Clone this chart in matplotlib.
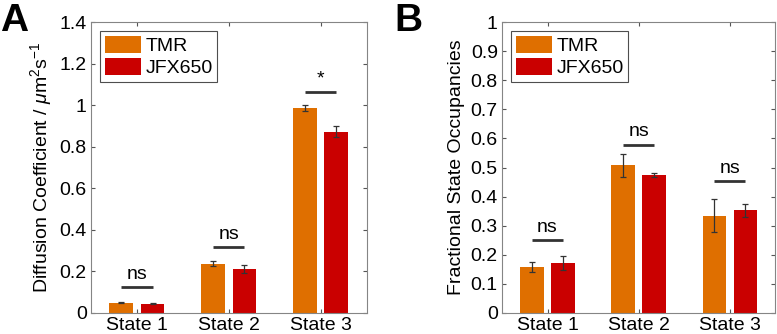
import matplotlib
matplotlib.use("Agg")
import matplotlib.pyplot as plt
import numpy as np
from matplotlib.patches import Patch

plt.rcParams['font.family'] = ['Liberation Sans', 'DejaVu Sans']
plt.rcParams['mathtext.fontset'] = 'custom'
plt.rcParams['mathtext.rm'] = 'Liberation Sans'
plt.rcParams['mathtext.it'] = 'Liberation Sans:italic'

categories = ['State 1', 'State 2', 'State 3']
series = ['TMR', 'JFX650']
colors = ['#DF6F00', '#CA0000']

# Panel A: diffusion coefficients
diff_tmr = [0.050, 0.238, 0.987]
diff_tmr_err = [0.004, 0.010, 0.016]
diff_jfx = [0.045, 0.212, 0.873]
diff_jfx_err = [0.004, 0.020, 0.028]
diff_sig = ['ns', 'ns', '*']
diff_sig_y = [0.125, 0.318, 1.064]

# Panel B: fractional state occupancies
occ_tmr = [0.158, 0.508, 0.335]
occ_tmr_err = [0.018, 0.040, 0.057]
occ_jfx = [0.173, 0.474, 0.353]
occ_jfx_err = [0.024, 0.007, 0.022]
occ_sig = ['ns', 'ns', 'ns']
occ_sig_y = [0.252, 0.579, 0.453]

fig = plt.figure(figsize=(7.77, 3.34), dpi=100)
axA = fig.add_axes([0.117, 0.063, 0.355, 0.871])
axB = fig.add_axes([0.646, 0.063, 0.352, 0.871])

x = np.arange(1, len(categories) + 1)
off = 0.17
w = 0.26
FS = 14

def panel(ax, v1, e1, v2, e2, sig, sigy, ymax, ystep, ylabel, txt_off):
    ax.bar(x - off, v1, w, color=colors[0], edgecolor='none', zorder=2)
    ax.bar(x + off, v2, w, color=colors[1], edgecolor='none', zorder=2)
    ax.errorbar(x - off, v1, yerr=e1, fmt='none', ecolor='#333333', elinewidth=0.9, capsize=2.2, capthick=0.9, zorder=3)
    ax.errorbar(x + off, v2, yerr=e2, fmt='none', ecolor='#333333', elinewidth=0.9, capsize=2.2, capthick=0.9, zorder=3)
    for xi, s, yy in zip(x, sig, sigy):
        ax.plot([xi - off, xi + off], [yy, yy], color='#333333', lw=2, solid_capstyle='butt', zorder=3)
        ax.text(xi, yy + txt_off, s, ha='center', va='bottom', fontsize=FS, color='black')
    ax.set_xlim(0.5, 3.5)
    ax.set_ylim(0, ymax)
    ticks = np.round(np.arange(0, ymax + ystep / 2, ystep), 2)
    ax.set_yticks(ticks)
    ax.set_yticklabels([('%g' % t) for t in ticks], fontsize=FS)
    ax.set_xticks(x)
    ax.set_xticklabels(categories, fontsize=FS)
    ax.tick_params(direction='in', length=3, width=0.8, color='#555555', top=True, right=True, pad=3)
    for sp in ax.spines.values():
        sp.set_color('#858585')
        sp.set_linewidth(0.8)
    ax.set_ylabel(ylabel, fontsize=FS, labelpad=4)
    handles = [Patch(facecolor=c, edgecolor='none', label=l) for c, l in zip(colors, series)]
    leg = ax.legend(handles=handles, loc='upper left', fontsize=FS, frameon=True, fancybox=False,
                    handlelength=1.9, handleheight=1.0, handletextpad=0.2, borderpad=0.25,
                    labelspacing=0.15, borderaxespad=0.45)
    leg.get_frame().set_edgecolor('#222222')
    leg.get_frame().set_linewidth(0.8)

panel(axA, diff_tmr, diff_tmr_err, diff_jfx, diff_jfx_err, diff_sig, diff_sig_y, 1.4, 0.2,
      r'Diffusion Coefficient / $\mathit{\mu}$m$^2$s$^{-1}$', 0.02)
panel(axB, occ_tmr, occ_tmr_err, occ_jfx, occ_jfx_err, occ_sig, occ_sig_y, 1.0, 0.1,
      'Fractional State Occupancies', 0.014)

fig.text(0.0, 0.99, 'A', fontsize=28, fontweight='bold', ha='left', va='top')
fig.text(0.508, 0.99, 'B', fontsize=28, fontweight='bold', ha='left', va='top')

fig.savefig('out.png', dpi=100)
